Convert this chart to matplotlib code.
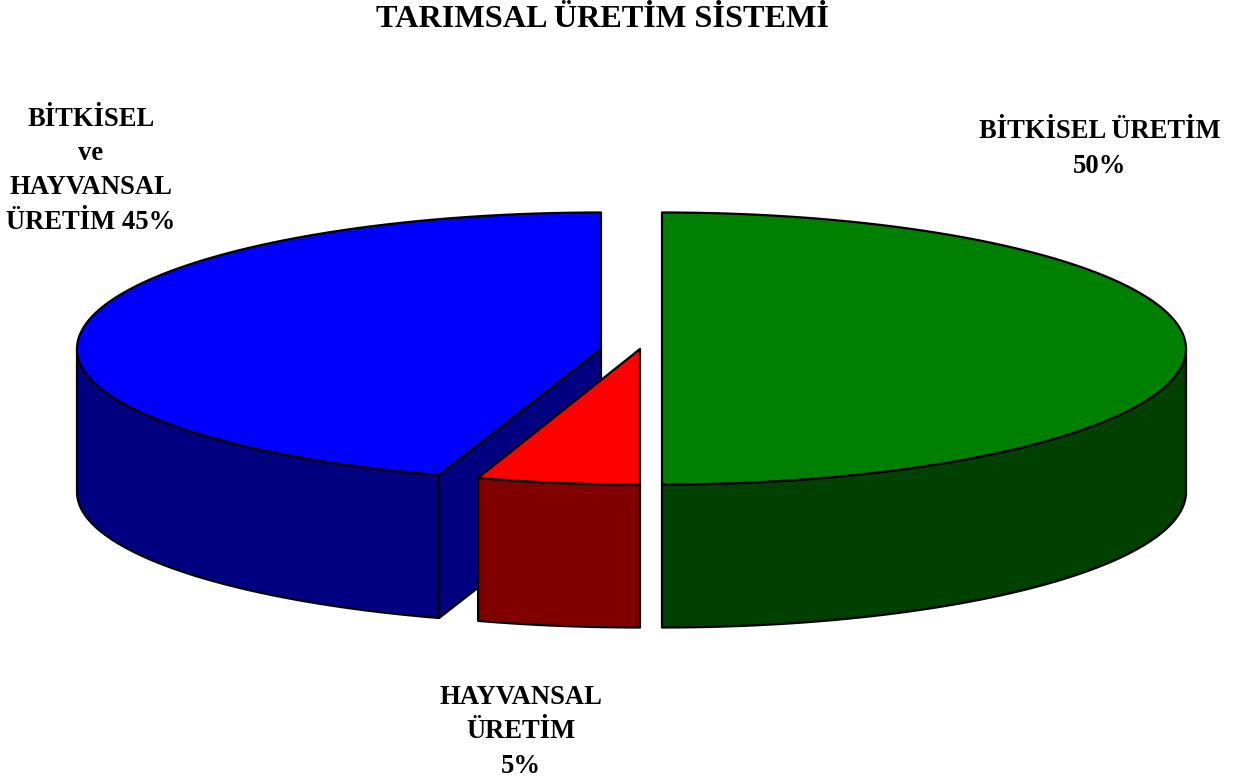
#!/usr/bin/env python3
"""Exploded 3D style pie, drawn by hand since matplotlib has no 3D pie"""

import numpy as np
import matplotlib
matplotlib.use('Agg')
import matplotlib.pyplot as plt
from matplotlib.patches import Polygon

plt.rcParams['font.family'] = ['Liberation Serif', 'DejaVu Sans']

title = 'TARIMSAL ÜRETİM SİSTEMİ'
slices = ['BİTKİSEL ÜRETİM', 'HAYVANSAL ÜRETİM', 'BİTKİSEL ve HAYVANSAL ÜRETİM']
values = [50, 5, 45]
label_texts = ['BİTKİSEL ÜRETİM\n50%', 'HAYVANSAL\nÜRETİM\n5%',
               'BİTKİSEL\nve\nHAYVANSAL\nÜRETİM 45%']

# layout, in pixels of the output
centres = [(662, 349), (640, 349), (601, 349)]
front_ry = [135.5, 135.5, 132.5]
label_pos = [(1100, 173), (521, 773), (91, 229)]  # baseline of the last line
top_colors = ['#008000', '#ff0000', '#0000ff']
side_colors = ['#004000', '#800000', '#000080']
draw_order = [2, 0, 1]
RX, RY, DEPTH = 524, 136.5, 143
LW = 1.6

fig = plt.figure(figsize=(12.37, 7.82), dpi=100)
ax = fig.add_axes([0, 0, 1, 1])
ax.set_xlim(0, 1237)
ax.set_ylim(782, 0)
ax.axis('off')


def rim(i, t):
    # t in degrees, clockwise from the top of the ellipse
    c = centres[i]
    t = np.radians(np.atleast_1d(t))
    cos_t = np.cos(t)
    ry = np.where(cos_t < 0, front_ry[i], RY)
    return np.column_stack([c[0] + RX * np.sin(t), c[1] - ry * cos_t])


def poly(pts, color, z):
    ax.add_patch(Polygon(pts, closed=True, facecolor=color, edgecolor='black',
                         linewidth=LW, joinstyle='round', zorder=z))


fractions = np.array(values) / np.sum(values) * 360
ends = np.cumsum(fractions)
starts = ends - fractions

for z, i in enumerate(draw_order):
    c = centres[i]
    t0, t1 = starts[i], ends[i]
    base = 2 + z * 3
    # outer wall, only the front half of the ellipse shows
    a, b = max(t0, 90), min(t1, 270)
    if a < b:
        edge = rim(i, np.linspace(a, b, 200))
        poly(np.vstack([edge, edge[::-1] + [0, DEPTH]]), side_colors[i], base)
    # cut face looks at the viewer if the slice is big and starts left of the bottom
    if 180 < t0 < 270 and fractions[i] > 90:
        p = rim(i, t0)[0]
        poly([c, p, p + [0, DEPTH], (c[0], c[1] + DEPTH)], side_colors[i], base)
    top = rim(i, np.linspace(t0, t1, 300))
    poly(np.vstack([[c], top]), top_colors[i], base + 1)

ax.text(602, 27, title, ha='center', va='baseline', fontsize=23.2, fontweight='bold')
for (x, y), s in zip(label_pos, label_texts):
    ax.text(x, y, s, ha='center', va='baseline', fontsize=19.2, fontweight='bold',
            linespacing=1.5)

fig.savefig('out.png', dpi=100, facecolor='white')
